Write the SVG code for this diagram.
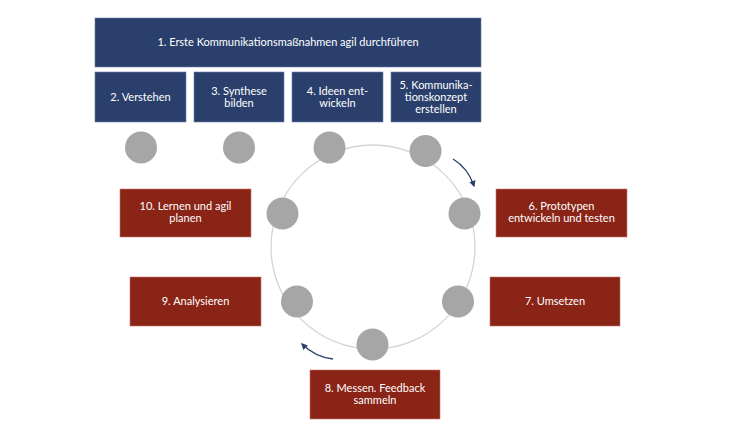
<svg xmlns="http://www.w3.org/2000/svg" width="749" height="428" viewBox="0 0 749 428">
<defs>
<style>
.b{fill:#2a3f6c;stroke:#6b7fa6;stroke-width:0.6}
.r{fill:#892416;stroke:#c2776c;stroke-width:0.6}
.t{font-family:Lato,"Open Sans","Liberation Sans",sans-serif;font-size:11px;fill:#ffffff;text-anchor:middle}
.c{fill:#a6a6a6}
.a{fill:none;stroke:#2a3f6c;stroke-width:1.3}
</style>
<marker id="ah" viewBox="0 0 10 10" refX="8" refY="5" markerWidth="5" markerHeight="5" orient="auto">
<path d="M0,0 L10,5 L0,10 z" fill="#2a3f6c"/>
</marker>
</defs>
<rect width="749" height="428" fill="#ffffff"/>
<g id="connectors">
<circle cx="373" cy="247" r="102" fill="none" stroke="#d4d4d4" stroke-width="1.3"/>
<path class="a" d="M453,159 Q468,168 474,186" marker-end="url(#ah)"/>
<path class="a" d="M333,359 Q315,357 302,344" marker-end="url(#ah)"/>
</g>
<g id="n1"><rect class="b" x="95" y="18" width="386" height="49"/><text class="t" x="288" y="46">1. Erste Kommunikationsmaßnahmen agil durchführen</text></g>
<g id="n2"><rect class="b" x="95" y="72" width="91" height="50"/><text class="t" x="140.5" y="101">2. Verstehen</text></g>
<g id="n3"><rect class="b" x="194" y="72" width="90" height="50"/><text class="t" x="239" y="95">3. Synthese</text><text class="t" x="239" y="107">bilden</text></g>
<g id="n4"><rect class="b" x="292" y="72" width="91" height="50"/><text class="t" x="337.5" y="95">4. Ideen ent-</text><text class="t" x="337.5" y="107">wickeln</text></g>
<g id="n5"><rect class="b" x="391" y="72" width="90" height="50"/><text class="t" x="436" y="89">5. Kommunika-</text><text class="t" x="436" y="101">tionskonzept</text><text class="t" x="436" y="113">erstellen</text></g>
<g id="c1"><circle class="c" cx="141" cy="147.5" r="16"/></g>
<g id="c2"><circle class="c" cx="239" cy="147.5" r="16"/></g>
<g id="c3"><circle class="c" cx="329.5" cy="147.5" r="16"/></g>
<g id="c4"><circle class="c" cx="425.5" cy="151" r="16"/></g>
<g id="c5"><circle class="c" cx="282.5" cy="213.5" r="16"/></g>
<g id="c6"><circle class="c" cx="464.5" cy="213.5" r="16"/></g>
<g id="c7"><circle class="c" cx="297" cy="301.5" r="16"/></g>
<g id="c8"><circle class="c" cx="458" cy="301.5" r="16"/></g>
<g id="c9"><circle class="c" cx="372.5" cy="344.5" r="16"/></g>
<g id="n6"><rect class="r" x="496" y="189" width="131" height="48"/><text class="t" x="561.5" y="210">6. Prototypen</text><text class="t" x="561.5" y="222">entwickeln und testen</text></g>
<g id="n7"><rect class="r" x="490" y="277" width="130" height="49"/><text class="t" x="555" y="305">7. Umsetzen</text></g>
<g id="n8"><rect class="r" x="310" y="370" width="130" height="49"/><text class="t" x="375" y="392">8. Messen. Feedback</text><text class="t" x="375" y="404">sammeln</text></g>
<g id="n9"><rect class="r" x="130" y="277" width="131" height="49"/><text class="t" x="195.5" y="305">9. Analysieren</text></g>
<g id="n10"><rect class="r" x="120" y="189" width="131" height="48"/><text class="t" x="185.5" y="210">10. Lernen und agil</text><text class="t" x="185.5" y="222">planen</text></g>
</svg>
